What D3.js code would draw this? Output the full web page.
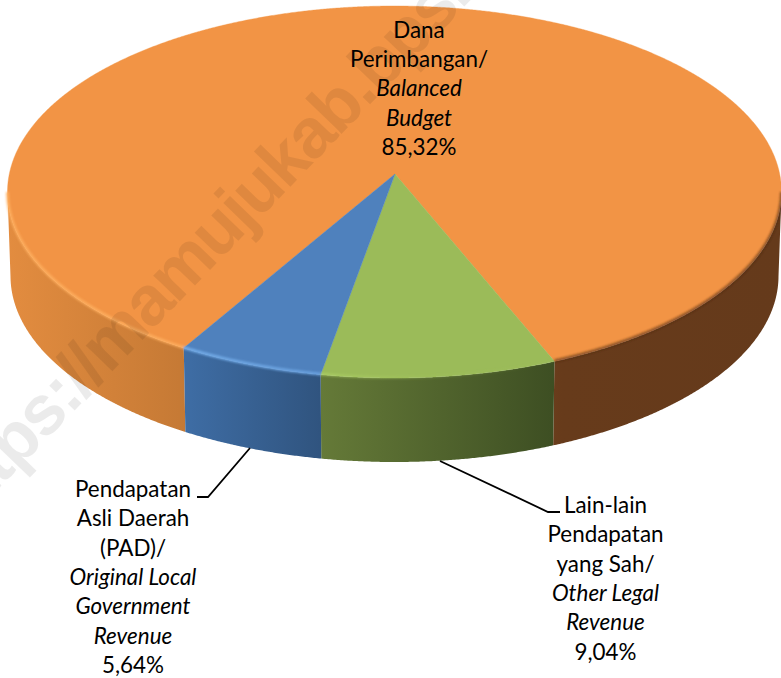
<!DOCTYPE html>
<html><head><meta charset="utf-8">
<style>html,body{margin:0;padding:0;background:#fff}svg{display:block}text{font-family:Lato,"Open Sans",sans-serif}</style>
<script src="https://cdn.jsdelivr.net/npm/d3@7/dist/d3.min.js"></script>
</head><body><svg id="c" width="781" height="678"></svg>
<script>
// ---- data ----
const categories = ["Dana Perimbangan", "Lain-lain Pendapatan", "Pendapatan Asli Daerah"];
const shares = [85.32, 9.04, 5.64];
const labelLines = [
  [["Dana",0],["Perimbangan/",0],["Balanced",1],["Budget",1],["85,32%",0]],
  [["Lain-lain",0],["Pendapatan",0],["yang Sah/",0],["Other Legal",1],["Revenue",1],["9,04%",0]],
  [["Pendapatan",0],["Asli Daerah",0],["(PAD)/",0],["Original Local",1],["Government",1],["Revenue",1],["5,64%",0]]
];
const watermark = "https://mamujukab.bps.go.id";

// ---- style / layout ----
const W=781,H=678;
const topColors=["#f29445","#9bbb59","#4f81bd"];
const wallStops=[
  [[0,"#e48d40"],[0.23,"#c67a35"],[0.33,"#b5702f"],[0.72,"#673b1b"],[1,"#653a1b"]],
  [[0.41,"#657a38"],[0.72,"#3c4d22"]],
  [[0.23,"#3f6ea6"],[0.41,"#30547f"]]
];
const rim=[
  {stops:[[0,"#ffb060",0.85],[0.24,"#ffb060",0.85],[0.3,"#ffb060",0],[0.7,"#4a2a10",0.6],[1,"#4a2a10",0.6]]},
  {stops:[[0.41,"#b4d86a",0.55],[0.55,"#a6c860",0.2],[0.72,"#a6c860",0]]},
  {stops:[[0.23,"#73ace8",1],[0.41,"#6ea6e4",0.85]]}
];
const cx=394.5, cy=192, rx=387, ry=186, depth=84, baseInset=3;
const apex={x:395,y:174};
const persp=1.09, startDeg=210.4;
const rad=Math.PI/180;

const px=d3.scaleLinear().domain([-1,1]).range([cx-rx,cx+rx]);
const py=d3.scaleLinear().domain([-1,1]).range([cy-ry,cy+ry]);
const pxB=d3.scaleLinear().domain([-1,1]).range([cx-rx+baseInset,cx+rx-baseInset]);

// pie angle (0=top, clockwise) -> ellipse parameter with foreshortening
function screenT(a){
  let th=Math.PI-a;
  th=Math.atan2(Math.sin(th),Math.cos(th));
  return 2*Math.atan(persp*Math.tan(th/2));
}
const topPt=a=>{const t=screenT(a);return [px(Math.sin(t)),py(Math.cos(t))];};
const botPt=a=>{const t=screenT(a);return [pxB(Math.sin(t)),py(Math.cos(t))+depth];};
const isFront=a=>Math.cos(screenT(a))>=0;

const pie=d3.pie().sort(null).value(d=>d).startAngle(startDeg*rad).endAngle((startDeg+360)*rad);
const arcs=pie(shares);
const line=d3.line();

function sampleAngles(s,e){
  const n=Math.ceil((e-s)/(0.25*rad));
  return d3.range(n+1).map(i=>s+(e-s)*i/n);
}
function frontRuns(s,e){
  const runs=[];let cur=null;
  sampleAngles(s,e).forEach(a=>{
    if(isFront(a)){if(!cur){cur=[];runs.push(cur);}cur.push(a);} else cur=null;
  });
  return runs;
}

const svg=d3.select("#c");
svg.append("rect").attr("width",W).attr("height",H).attr("fill","#fff");
const defs=svg.append("defs");
defs.append("filter").attr("id","soft")
  .attr("filterUnits","userSpaceOnUse").attr("x",0).attr("y",0).attr("width",W).attr("height",H)
  .append("feGaussianBlur").attr("stdDeviation",1.1);

function hGrad(id,stops){
  const g=defs.append("linearGradient").attr("id",id).attr("gradientUnits","userSpaceOnUse")
    .attr("x1",0).attr("x2",W).attr("y1",0).attr("y2",0);
  stops.forEach(s=>{const o=g.append("stop").attr("offset",s[0]).attr("stop-color",s[1]);
    if(s.length>2)o.attr("stop-opacity",s[2]);});
}
arcs.forEach((d,i)=>{hGrad("wall"+i,wallStops[i]);hGrad("rim"+i,rim[i].stops);});

// walls
const gWall=svg.append("g");
arcs.forEach((d,i)=>{
  frontRuns(d.startAngle,d.endAngle).forEach(run=>{
    const pts=run.map(topPt).concat(run.slice().reverse().map(botPt));
    gWall.append("path").attr("d",line(pts)+"Z").attr("fill",`url(#wall${i})`);
  });
});
// top faces
const gTop=svg.append("g");
arcs.forEach((d,i)=>{
  const pts=[[apex.x,apex.y]].concat(sampleAngles(d.startAngle,d.endAngle).map(topPt));
  gTop.append("path").attr("d",line(pts)+"Z").attr("fill",topColors[i]).attr("stroke",topColors[i]).attr("stroke-width",0.4);
});
// rim bevel
const gRim=svg.append("g").attr("filter","url(#soft)");
arcs.forEach((d,i)=>{
  frontRuns(d.startAngle,d.endAngle).forEach(run=>{
    const pts=run.map(a=>{const p=topPt(a);return [p[0],p[1]-0.5];});
    gRim.append("path").attr("d",line(pts)).attr("fill","none").attr("stroke",`url(#rim${i})`).attr("stroke-width",3);
  });
});

// watermark
svg.append("text").text(watermark)
  .attr("transform","translate(-42,531) rotate(-46)")
  .attr("font-size",70).attr("font-weight",700).attr("letter-spacing",-2)
  .style("font-family","'Liberation Sans',Arial,sans-serif")
  .attr("fill","#000").attr("fill-opacity",0.08);

// leaders
const leaders=[
  {from:categories[1],pts:[[440,461],[548,512],[560,512]]},
  {from:categories[2],pts:[[250,448],[208,497],[197,497]]}
];
svg.append("g").selectAll("path").data(leaders).join("path")
  .attr("d",d=>line(d.pts)).attr("fill","none").attr("stroke","#000").attr("stroke-width",1.8);

// labels
const labelPos=[{x:419,y:37.5},{x:605.5,y:513},{x:133,y:497}];
const step=29.35;
labelLines.forEach((ls,i)=>{
  const t=svg.append("text").attr("text-anchor","middle").attr("font-size",22.4).attr("fill","#000");
  ls.forEach((l,j)=>{
    t.append("tspan").attr("x",labelPos[i].x).attr("y",labelPos[i].y+j*step)
      .attr("font-style",l[1]?"italic":"normal").text(l[0]);
  });
});
</script></body></html>
